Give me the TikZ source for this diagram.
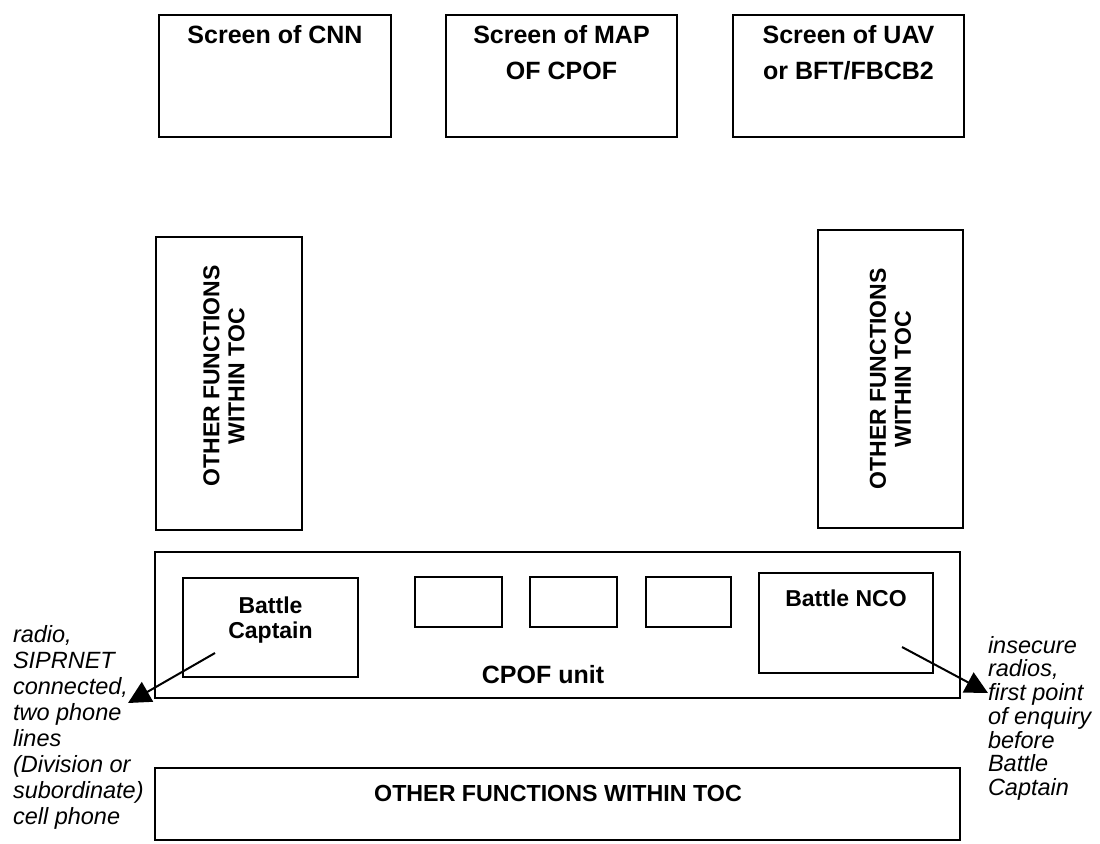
\documentclass[tikz,border=0pt]{standalone}
\usepackage{fontspec}
\setmainfont{Liberation Sans}
\usetikzlibrary{arrows.meta,positioning}
\begin{document}
\begin{tikzpicture}[
		x=0.4pt, y=-0.4pt,
		every node/.style={inner sep=0pt, outer sep=0pt},
		frame/.style={draw, line width=0.6pt, anchor=north west},
		title/.style={font=\bfseries\fontsize{10}{14.4}\selectfont, align=center, anchor=north},
		role/.style={font=\bfseries\fontsize{9.2}{10}\selectfont, align=center, anchor=north},
		side/.style={font=\bfseries\fontsize{9.2}{10}\selectfont, align=center, rotate=90},
		note/.style={align=left, anchor=north west},
		pointer/.style={-{Triangle[length=9pt,width=9pt]}, line width=0.8pt}
	]
	\useasboundingbox (0,0) rectangle (1100,843);

	\node[frame, minimum width=92.8pt, minimum height=48.8pt] (cnn) at (159,15) {};
	\node[frame, minimum width=92.4pt, minimum height=48.8pt] (map) at (446,15) {};
	\node[frame, minimum width=92.4pt, minimum height=48.8pt] (uav) at (733,15) {};
	\node[title] (cnntext) at ([yshift=-4pt]cnn.north) {Screen of CNN};
	\node[title] (maptext) at ([yshift=-4pt]map.north) {Screen of MAP\\OF CPOF};
	\node[title] (uavtext) at ([yshift=-4pt]uav.north) {Screen of UAV\\or BFT/FBCB2};

	\node[frame, minimum width=58.4pt, minimum height=117.2pt] (leftfn) at (156,237) {};
	\node[frame, minimum width=58pt, minimum height=119.2pt] (rightfn) at (818,230) {};
	\node[side] (leftfntext) at ([xshift=-2pt, yshift=3pt]leftfn.center) {OTHER FUNCTIONS\\WITHIN TOC};
	\node[side] (rightfntext) at (rightfn.center) {OTHER FUNCTIONS\\WITHIN TOC};

	\node[frame, minimum width=322pt, minimum height=58.4pt] (cpof) at (155,552) {};
	\node[frame, minimum width=70pt, minimum height=39.6pt] (captain) at (183,578) {};
	\node[frame, minimum width=34.8pt, minimum height=20pt] (slota) at (415,577) {};
	\node[frame, minimum width=34.8pt, minimum height=20pt] (slotb) at (530,577) {};
	\node[frame, minimum width=34pt, minimum height=20pt] (slotc) at (646,577) {};
	\node[frame, minimum width=69.6pt, minimum height=40pt] (nco) at (759,573) {};
	\node[role] (captaintext) at ([yshift=-7.6pt]captain.north) {Battle\\Captain};
	\node[role] (ncotext) at ([yshift=-6.8pt]nco.north) {Battle NCO};
	\node[font=\bfseries\fontsize{10}{12}\selectfont] (cpoftext) at (543,675) {CPOF unit};

	\node[frame, minimum width=322pt, minimum height=28.8pt] (toc) at (155,768) {};
	\node[font=\bfseries\fontsize{9.3}{11}\selectfont] (toctext) at (558,793) {OTHER FUNCTIONS WITHIN TOC};

	\node[note, font=\itshape\fontsize{9.4}{10.4}\selectfont] (leftnote) at (13,625)
		{radio,\\SIPRNET\\connected,\\two phone\\lines\\(Division or\\subordinate)\\cell phone};
	\node[note, font=\itshape\fontsize{9.4}{9.5}\selectfont] (rightnote) at (988,636)
		{insecure\\radios,\\first point\\of enquiry\\before\\Battle\\Captain};

	\coordinate (captainfrom) at (215,653);
	\coordinate (captainto) at (128,703);
	\coordinate (ncofrom) at (902,647);
	\coordinate (ncoto) at (988,693);
	\draw[pointer] (captainfrom) -- (captainto);
	\draw[pointer] (ncofrom) -- (ncoto);
\end{tikzpicture}
\end{document}
